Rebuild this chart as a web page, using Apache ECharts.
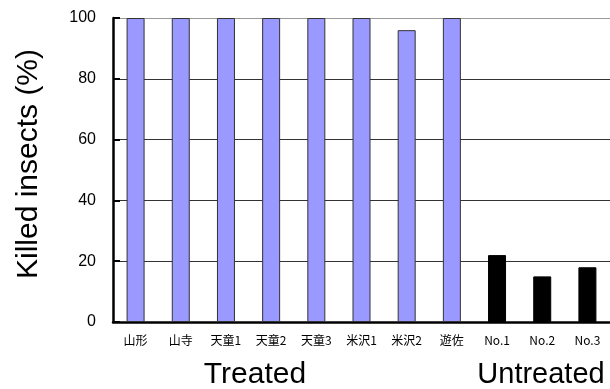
<!DOCTYPE html>
<html><head><meta charset="utf-8">
<script src="https://cdn.jsdelivr.net/npm/echarts@6/dist/echarts.min.js"></script>
<style>html,body{margin:0;padding:0;background:#fff}#c{width:610px;height:389px}</style>
</head><body><div id="c"></div>
<script>
const categories = ['山形','山寺','天童1','天童2','天童3','米沢1','米沢2','遊佐','No.1','No.2','No.3'];
const treatedValues = [100,100,100,100,100,100,96,100,null,null,null];
const untreatedValues = [null,null,null,null,null,null,null,null,22,15,18];
const yTicks = [0,20,40,60,80,100];
const groupLabels = ['Treated','Untreated'];

const chart = echarts.init(document.getElementById('c'));
chart.setOption({
  animation:false,
  grid:{left:113,top:18,width:502,height:304},
  xAxis:{type:'category',data:categories,
    axisLine:{lineStyle:{color:'#000',width:2.5}},
    axisTick:{inside:true,length:4,lineStyle:{color:'#000',width:2}},
    axisLabel:{fontSize:12,color:'#000',margin:12,fontFamily:'"Noto Sans CJK JP", Arial, sans-serif'}},
  yAxis:{type:'value',min:yTicks[0],max:yTicks[yTicks.length-1],interval:20,
    axisLine:{show:true,lineStyle:{color:'#000',width:2.5}},
    axisTick:{show:true,inside:true,length:7,lineStyle:{color:'#000',width:2}},
    axisLabel:{fontSize:16,color:'#000',margin:17,fontFamily:'"Liberation Sans", Arial, sans-serif'},
    splitLine:{show:true,lineStyle:{color:['#333','#333','#333','#333','#333','#999'],width:1}}},
  series:[
    {type:'bar',data:treatedValues,barWidth:18,barGap:'-100%',
     itemStyle:{color:'#9999ff',borderColor:'#333',borderWidth:1}},
    {type:'bar',data:untreatedValues,barWidth:18,
     itemStyle:{color:'#000',borderColor:'#000',borderWidth:1}}
  ],
  graphic:[
    {type:'text',x:29,y:164,rotation:Math.PI/2,
     style:{text:'Killed insects (%)',font:'30px "Liberation Sans", Arial, sans-serif',fill:'#000',textAlign:'center',textVerticalAlign:'middle'}},
    {type:'text',x:255,y:375,style:{text:groupLabels[0],font:'30px "Liberation Sans", Arial, sans-serif',fill:'#000',textAlign:'center',textVerticalAlign:'middle'}},
    {type:'text',x:541,y:375,style:{text:groupLabels[1],font:'29px "Liberation Sans", Arial, sans-serif',fill:'#000',textAlign:'center',textVerticalAlign:'middle'}}
  ]
});
</script></body></html>
